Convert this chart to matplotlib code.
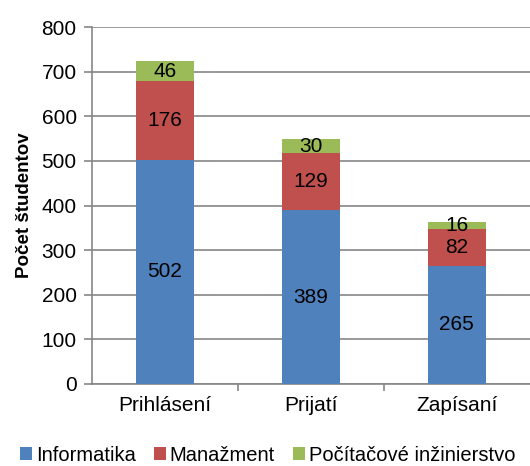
import matplotlib.pyplot as plt
import numpy as np

plt.rcParams['font.family'] = ['Liberation Sans', 'DejaVu Sans']

kategorie = ['Prihlásení', 'Prijatí', 'Zapísaní']
informatika = [502, 389, 265]
manazment = [176, 129, 82]
pocitacove = [46, 30, 16]

serie = [('Informatika', informatika, '#4F81BD'),
         ('Manažment', manazment, '#C0504D'),
         ('Počítačové inžinierstvo', pocitacove, '#9BBB59')]

fig = plt.figure(figsize=(5.3, 4.66), dpi=100)
ax = fig.add_axes([0.1736, 0.176, 0.826, 0.766])

x = np.arange(len(kategorie))
spodok = np.zeros(len(kategorie))
for nazov, hodnoty, farba in serie:
    hodnoty = np.array(hodnoty)
    ax.bar(x, hodnoty, 0.4, bottom=spodok, color=farba, label=nazov, zorder=3)
    for xi, b, h in zip(x, spodok, hodnoty):
        ax.text(xi, b + h / 2, str(h), ha='center', va='center',
                fontsize=15, color='black', zorder=4)
    spodok = spodok + hodnoty

ax.set_xlim(-0.5, 2.5)
ax.set_ylim(0, 800)
ax.set_yticks(range(0, 801, 100))
ax.grid(axis='y', color='#868686', linewidth=1.2, zorder=0)

ax.set_xticks(x)
ax.set_xticklabels(kategorie, fontsize=15)
ax.set_xticks([0.5, 1.5], minor=True)
ax.tick_params(axis='x', which='major', length=0, pad=9)
ax.tick_params(axis='x', which='minor', length=5, color='#868686', width=1.2)
ax.tick_params(axis='y', labelsize=15, length=6, color='#868686', width=1.2, pad=5)

for s in ['top', 'right']:
    ax.spines[s].set_visible(False)
for s in ['left', 'bottom']:
    ax.spines[s].set_color('#868686')
    ax.spines[s].set_linewidth(1.2)

ax.set_ylabel('Počet študentov', fontsize=13.5, fontweight='bold', labelpad=6)

fig.legend(loc='lower center', bbox_to_anchor=(0.505, -0.036), ncol=3,
           frameon=False, fontsize=14.5, handlelength=0.6, handleheight=0.6,
           handletextpad=0.2, columnspacing=0.9)

fig.savefig('out.png', dpi=100)
